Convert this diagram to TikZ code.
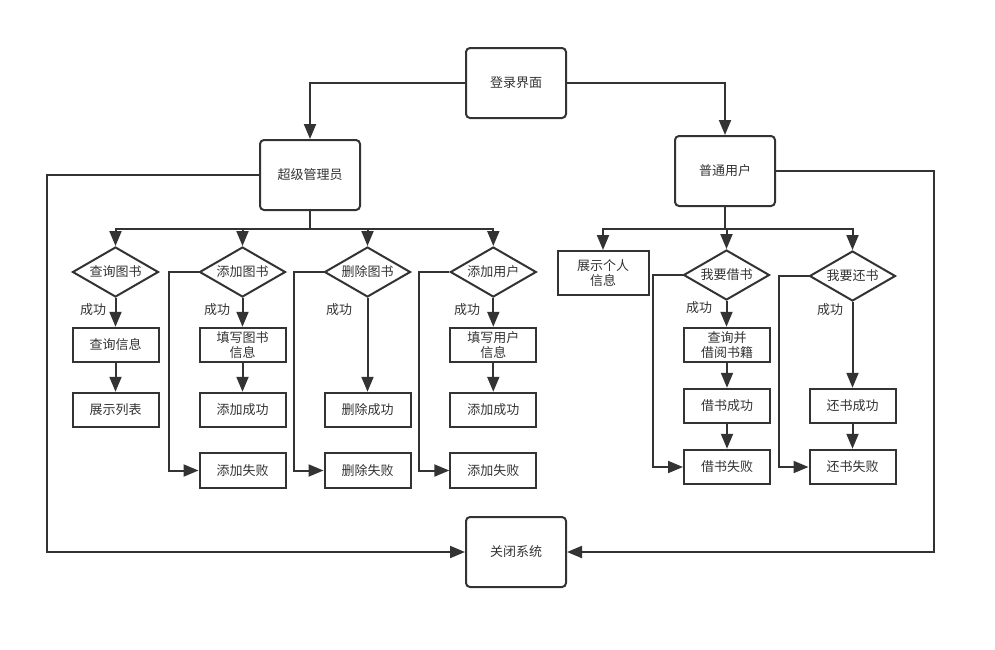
\documentclass[tikz,border=0pt]{standalone}
\usepackage{fontspec}
\setmainfont{Noto Sans CJK SC}
\usetikzlibrary{arrows.meta,shapes.geometric}
\definecolor{ink}{HTML}{333333}
\tikzset{
  every node/.style={font=\fontsize{13}{15}\selectfont, text=ink},
  rbox/.style={draw=ink, line width=2pt, rounded corners=4pt, minimum width=100pt, minimum height=70pt, inner sep=0pt},
  sbox/.style={draw=ink, line width=2pt, minimum width=86pt, minimum height=34.5pt, inner sep=0pt, align=center},
  dia/.style={draw=ink, line width=2pt, diamond, aspect=1.72, minimum width=86pt, minimum height=50pt, inner sep=0pt},
  conn/.style={draw=ink, line width=2pt},
  arr/.style={conn, -{Triangle[length=15pt,width=12pt]}},
  lbl/.style={inner sep=0pt}
}
\begin{document}
\begin{tikzpicture}[x=1pt,y=-1pt]
\useasboundingbox (0,0) rectangle (995,649);
% main boxes
\node[rbox] (login) at (516,83) {登录界面};
\node[rbox] (sup) at (310,175) {超级管理员};
\node[rbox] (usr) at (725,171) {普通用户};
\node[rbox] (close) at (516,552) {关闭系统};
% admin column diamonds
\node[dia] (d1) at (115.5,272) {查询图书};
\node[dia] (d2) at (242.5,272) {添加图书};
\node[dia] (d3) at (367.5,272) {删除图书};
\node[dia] (d4) at (493.3,272) {添加用户};
% admin boxes
\node[sbox] (a1) at (115.5,345) {查询信息};
\node[sbox] (a2) at (115.5,410) {展示列表};
\node[sbox] (b1) at (242.5,345) {填写图书\\信息};
\node[sbox] (b2) at (242.5,410) {添加成功};
\node[sbox] (b3) at (242.5,470.5) {添加失败};
\node[sbox] (c2) at (367.5,410) {删除成功};
\node[sbox] (c3) at (367.5,470.5) {删除失败};
\node[sbox] (e1) at (493.3,345) {填写用户\\信息};
\node[sbox] (e2) at (493.3,410) {添加成功};
\node[sbox] (e3) at (493.3,470.5) {添加失败};
% user side
\node[sbox, minimum width=91pt, minimum height=44pt] (info) at (603,273) {展示个人\\信息};
\node[dia] (u1) at (726.5,275) {我要借书};
\node[dia] (u2) at (852.5,276) {我要还书};
\node[sbox] (q) at (727,345) {查询并\\借阅书籍};
\node[sbox] (bs) at (727,406) {借书成功};
\node[sbox] (bf) at (727,467) {借书失败};
\node[sbox] (rs) at (852.5,406) {还书成功};
\node[sbox] (rf) at (852.5,467) {还书失败};
% labels
\node[lbl] (l1) at (93,310) {成功};
\node[lbl] (l2) at (217,310) {成功};
\node[lbl] (l3) at (339,310) {成功};
\node[lbl] (l4) at (467,310) {成功};
\node[lbl] (l5) at (699,308) {成功};
\node[lbl] (l6) at (830,310) {成功};
% top connectors
\draw[arr] (login.west) -| (sup.north);
\draw[arr] (login.east) -| (usr.north);
% admin bus
\coordinate (busL) at (310,229);
\draw[conn] (sup.south) -- (busL);
\draw[arr] (busL) -| (d1.north);
\draw[arr] (busL) -| (d2.north);
\draw[arr] (busL) -| (d3.north);
\draw[arr] (busL) -| (d4.north);
% admin columns
\draw[arr] (d1.south) -- (a1.north);
\draw[arr] (a1.south) -- (a2.north);
\draw[arr] (d2.south) -- (b1.north);
\draw[arr] (b1.south) -- (b2.north);
\draw[arr] (d2.west) -- ++(-30,0) |- (b3.west);
\draw[arr] (d3.south) -- (c2.north);
\draw[arr] (d3.west) -- ++(-30,0) |- (c3.west);
\draw[arr] (d4.south) -- (e1.north);
\draw[arr] (e1.south) -- (e2.north);
\draw[arr] (d4.west) -- ++(-30,0) |- (e3.west);
% user bus
\coordinate (busR) at (725,229);
\draw[conn] (usr.south) -- (busR);
\draw[arr] (busR) -| (info.north);
\draw[arr] (busR) -| (u1.north);
\draw[arr] (busR) -| (u2.north);
% user columns
\draw[arr] (u1.south) -- (u1.south |- q.north);
\draw[arr] (q.south) -- (bs.north);
\draw[arr] (bs.south) -- (bf.north);
\draw[arr] (u1.west) -- ++(-30,0) |- (bf.west);
\draw[arr] (u2.south) -- (rs.north);
\draw[arr] (rs.south) -- (rf.north);
\draw[arr] (u2.west) -- ++(-30,0) |- (rf.west);
% close connectors
\coordinate (lc) at (47,175);
\coordinate (rc) at (934,171);
\draw[arr] (sup.west) -- (lc) |- (close.west);
\draw[arr] (usr.east) -- (rc) |- (close.east);
\end{tikzpicture}
\end{document}
